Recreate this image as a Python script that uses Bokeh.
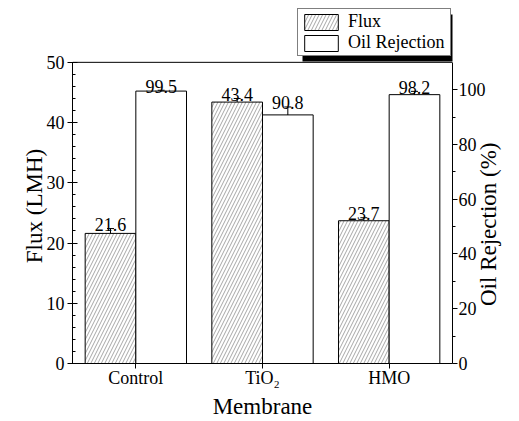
import math
from bokeh.plotting import figure
from bokeh.models import (ColumnDataSource, FactorRange, Range1d, LinearAxis, FixedTicker,
                          Whisker, TeeHead, Legend, LegendItem, Span, BoxAnnotation)
from bokeh.transform import dodge
from bokeh.core.properties import value
from bokeh.embed import file_html
from bokeh.resources import INLINE

categories = ["Control", "TiO₂", "HMO"]
flux = [21.6, 43.4, 23.7]
flux_err = [0.8, 0.6, 0.5]
rejection = [99.5, 90.8, 98.2]
rejection_err = [0.3, 2.9, 1.2]
flux_ticks = [0, 10, 20, 30, 40, 50]
rej_ticks = [0, 20, 40, 60, 80, 100]
flux_max = 50
rej_max = 110

FONT = "Liberation Serif"
NBSP = "\u00a0"

src = ColumnDataSource(dict(
    cat=categories,
    flux=flux,
    flux_up=[v + e for v, e in zip(flux, flux_err)],
    flux_lo=[v - e for v, e in zip(flux, flux_err)],
    flux_lbl=[f"{v:.1f}" for v in flux],
    rej=rejection,
    rej_up=[v + e for v, e in zip(rejection, rejection_err)],
    rej_lo=[v - e for v, e in zip(rejection, rejection_err)],
    rej_lbl=[f"{v:.1f}" for v in rejection],
))

# layout: the frame reaches near the top so that the legend above the plot box is visible
plot_px = 302      # height of the visible plot box
extra_px = 60      # space above the plot box (legend area) inside the frame
scale = (plot_px + extra_px) / plot_px

xr = FactorRange(*categories, range_padding=0)
p = figure(width=519, height=421, x_range=xr, y_range=Range1d(0, flux_max * scale),
           output_backend="svg", toolbar_location=None,
           min_border_left=72, min_border_right=67, min_border_top=2, min_border_bottom=57)
p.extra_y_ranges = {"rej": Range1d(0, rej_max * scale)}
p.xgrid.visible = False
p.ygrid.visible = False
p.outline_line_color = None
p.background_fill_color = "white"
p.border_fill_color = "white"

p.add_layout(Span(location=flux_max, dimension="width", line_color="black", line_width=1))

r_flux = p.vbar(x=dodge("cat", -0.2, range=xr), top="flux", width=0.4, source=src,
                fill_color="white", line_color="black", line_width=1,
                hatch_pattern="/", hatch_color="#808080", hatch_scale=7, hatch_weight=0.7)
r_rej = p.vbar(x=dodge("cat", 0.2, range=xr), top="rej", width=0.4, source=src,
               y_range_name="rej", fill_color="white", line_color="black", line_width=1)

p.add_layout(Whisker(source=src, base=dodge("cat", -0.2, range=xr), upper="flux_up", lower="flux_lo",
                     line_color="black", line_width=1,
                     upper_head=TeeHead(size=7, line_width=1), lower_head=TeeHead(size=7, line_width=1)))
p.add_layout(Whisker(source=src, base=dodge("cat", 0.2, range=xr), upper="rej_up", lower="rej_lo",
                     y_range_name="rej", line_color="black", line_width=1,
                     upper_head=TeeHead(size=7, line_width=1), lower_head=TeeHead(size=7, line_width=1)))

p.text(x=dodge("cat", -0.2, range=xr), y="flux_up", text="flux_lbl", source=src,
       text_align="center", text_baseline="alphabetic", y_offset=-4,
       text_font=value(FONT), text_font_size="18px", text_color="black")
p.text(x=dodge("cat", 0.2, range=xr), y="rej_up", text="rej_lbl", source=src, y_range_name="rej",
       text_align="center", text_baseline="alphabetic", y_offset=-4,
       text_font=value(FONT), text_font_size="18px", text_color="black")

def style_axis(ax, label_size="23px"):
    ax.axis_line_color = "black"
    ax.major_tick_line_color = "black"
    ax.minor_tick_line_color = "black"
    ax.major_label_text_font = FONT
    ax.major_label_text_font_size = "18px"
    ax.major_label_text_color = "black"
    ax.axis_label_text_font = FONT
    ax.axis_label_text_font_size = label_size
    ax.axis_label_text_font_style = "normal"
    ax.axis_label_text_color = "black"

xa = p.xaxis[0]
style_axis(xa)
xa.axis_label = "Membrane"
xa.major_tick_in = 0
xa.major_tick_out = 5
xa.major_label_standoff = -1
xa.axis_label_standoff = 3

ya = p.yaxis[0]
style_axis(ya)
# trailing no-break spaces shift the centred label down onto the plot box
ya.axis_label = "Flux (LMH)" + NBSP * 8
ya.bounds = (0, flux_max)
ya.ticker = FixedTicker(ticks=flux_ticks, minor_ticks=[v for v in range(0, 51, 2) if v % 10])
ya.major_tick_in = 5
ya.major_tick_out = 5
ya.minor_tick_in = 3
ya.minor_tick_out = 0
ya.major_label_standoff = 3
ya.axis_label_standoff = -3

# right axis label reads bottom-to-top, starting from the bottom; leading no-break spaces lift it
ra = LinearAxis(y_range_name="rej", axis_label=NBSP * 10 + "Oil Rejection (%)")
style_axis(ra, "23px")
ra.bounds = (0, rej_max)
ra.ticker = FixedTicker(ticks=rej_ticks, minor_ticks=[v for v in range(10, 110, 20)])
ra.major_tick_in = 0
ra.major_tick_out = 5
ra.minor_tick_in = 0
ra.minor_tick_out = 3
ra.major_label_standoff = 1
ra.axis_label_standoff = 0
ra.axis_label_orientation = math.pi / 2
ra.axis_label_align = "start"
p.add_layout(ra, "right")

# legend with a drop shadow, above the plot box
LEG_X, LEG_Y = 225, 307          # legend offset from the frame's bottom-left, px
SHADOW = dict(left=302, right=455, top=14, bottom=61)   # canvas px
p.add_layout(BoxAnnotation(left=SHADOW["left"], right=SHADOW["right"],
                           top=SHADOW["top"], bottom=SHADOW["bottom"],
                           left_units="canvas", right_units="canvas",
                           top_units="canvas", bottom_units="canvas",
                           fill_color="black", fill_alpha=1.0, line_color=None))

legend = Legend(items=[LegendItem(label="Flux", renderers=[r_flux]),
                       LegendItem(label="Oil Rejection", renderers=[r_rej])],
                location=(LEG_X, LEG_Y),
                glyph_width=42, glyph_height=20, label_height=20, label_width=100,
                spacing=0, padding=2, label_standoff=6, margin=0,
                label_text_font=FONT, label_text_font_size="18px", label_text_color="black",
                border_line_color="black", border_line_width=1,
                background_fill_color="white", background_fill_alpha=1.0)
p.add_layout(legend)

open("out.html", "w").write(file_html(p, INLINE))
